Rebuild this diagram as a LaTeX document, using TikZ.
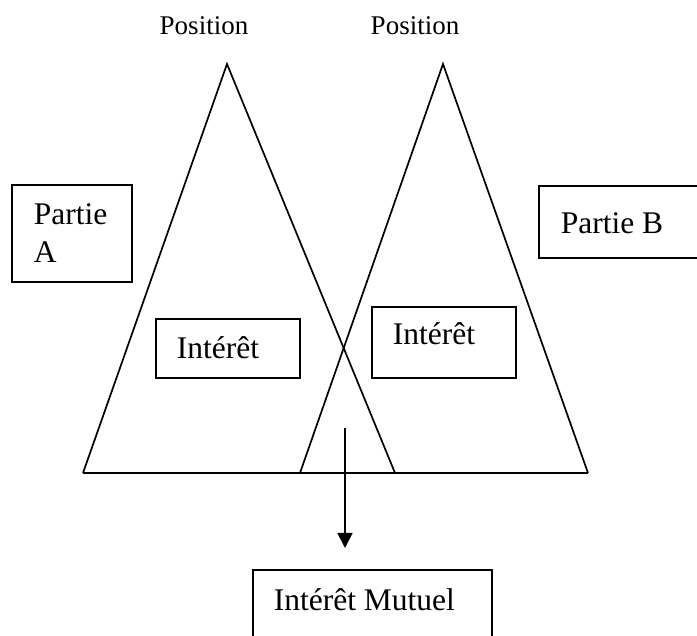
\documentclass[tikz,border=0pt]{standalone}
\usepackage{fontspec}
\setmainfont{Liberation Serif}
\usetikzlibrary{arrows.meta}
\begin{document}
\begin{tikzpicture}[x=1pt,y=-1pt,
  line width=1.7pt,
  boxstyle/.style={draw, line width=1.7pt, inner sep=0pt, rectangle},
  txt/.style={inner sep=0pt, anchor=base west, font=\fontsize{31.5}{38}\selectfont},
  postxt/.style={inner sep=0pt, anchor=base, font=\fontsize{27}{32}\selectfont},
  tri/.style={line width=1.7pt, line join=miter}]
\clip (0,0) rectangle (697,636);
% triangle corners
\coordinate (Aapex) at (227,64);
\coordinate (Al) at (83,473);
\coordinate (Ar) at (395,473);
\coordinate (Bapex) at (443,64);
\coordinate (Bl) at (300,473);
\coordinate (Br) at (588,473);
\draw[tri] (Al) -- (Aapex) -- (Ar);
\draw[tri] (Bl) -- (Bapex) -- (Br);
\draw[tri] (Al) -- (Br);
% Position labels
\node[postxt] (posA) at (204,35) {Position};
\node[postxt] (posB) at (415,35) {Position};
% boxes
\node[boxstyle, minimum width=120pt, minimum height=97pt, anchor=north west] (boxA) at (11,184) {};
\node[txt] (partieA1) at (33,225) {Partie};
\node[txt] (partieA2) at (33,263) {A};
\node[boxstyle, minimum width=200pt, minimum height=72pt, anchor=north west] (boxB) at (538,185) {};
\node[txt] (partieB) at (560,234) {Partie B};
\node[boxstyle, minimum width=144pt, minimum height=59pt, anchor=north west] (boxIA) at (155,318) {};
\node[txt] (intA) at (176,359) {Intérêt};
\node[boxstyle, minimum width=144pt, minimum height=71pt, anchor=north west] (boxIB) at (371,306) {};
\node[txt] (intB) at (392,345) {Intérêt};
\node[boxstyle, minimum width=239pt, minimum height=100pt, anchor=north west] (boxM) at (252,569) {};
\node[txt] (mutuel) at (273,610) {Intérêt Mutuel};
% arrow
\coordinate (arrowstart) at (345,428);
\draw[-{Triangle[width=15pt,length=15pt]}, line width=1.7pt, shorten >=21pt] (arrowstart) -- (boxM.north -| arrowstart);
\end{tikzpicture}
\end{document}
